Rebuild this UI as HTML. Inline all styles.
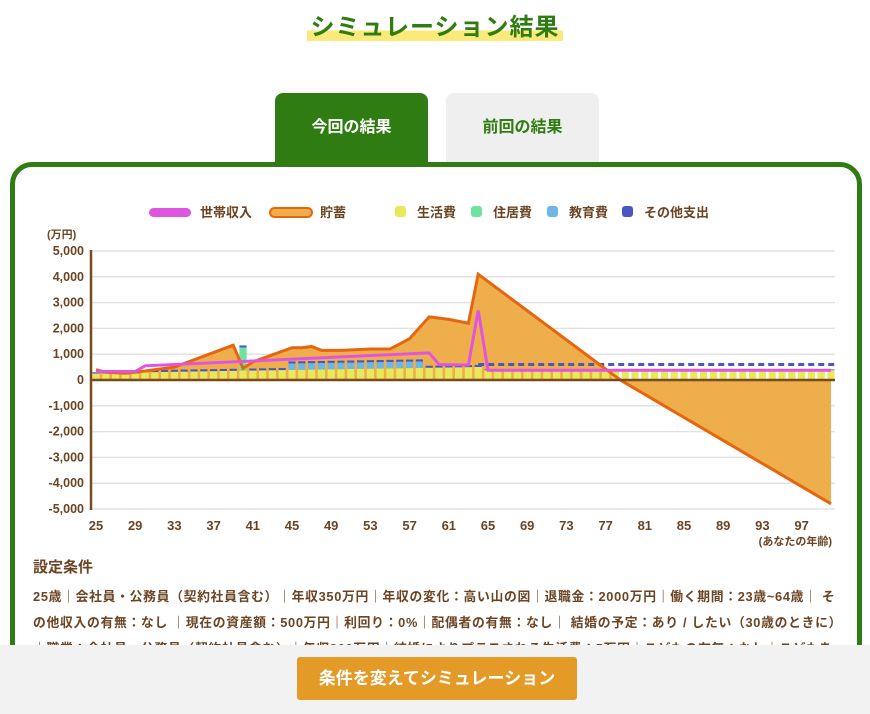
<!DOCTYPE html>
<html><head><meta charset="utf-8"><style>
html,body{margin:0;width:870px;height:714px;overflow:hidden}
body{background:#fff;font-family:"Liberation Sans","Noto Sans CJK JP",sans-serif;position:relative}
.t{position:absolute;top:7px;left:0;width:870px;text-align:center;font-size:24px;font-weight:bold;color:#2f7d12;letter-spacing:1px}
.t span{background:linear-gradient(transparent 62%,#fbe97a 62%);padding:0 3px}
.tab{position:absolute;top:93px;width:153px;height:72px;border-radius:8px 8px 0 0;text-align:center;line-height:70px;font-size:16px;font-weight:bold}
.box{position:absolute;left:10px;top:162px;width:842px;height:520px;border:5px solid #2f7d12;border-radius:22px}
.cond{position:absolute;left:33px;color:#6b4423;font-weight:bold}
.foot{position:absolute;left:0;top:645px;width:870px;height:69px;background:#f2f2f2}
.btn{position:absolute;left:297px;top:657px;width:280px;height:43px;background:#e49a26;border-radius:3px;color:#fff;font-weight:bold;font-size:17px;text-align:center;line-height:43px}
</style></head><body>
<div class="t"><span>シミュレーション結果</span></div>
<div class="tab" style="left:275px;background:#2f7d12;color:#fff">今回の結果</div>
<div class="tab" style="left:446px;background:#efefef;color:#2f7d12">前回の結果</div>
<div class="box"></div>
<svg id="c" width="870" height="714" style="position:absolute;left:0;top:0" font-family="Liberation Sans, Noto Sans CJK JP, sans-serif" font-weight="bold"></svg>
<div class="cond" style="top:556px;font-size:15px">設定条件</div>
<div class="cond" style="top:584px;font-size:12.8px;line-height:26px;width:810px;letter-spacing:0.7px">25歳｜会社員・公務員（契約社員含む）｜年収350万円｜年収の変化：高い山の図｜退職金：2000万円｜働く期間：23歳~64歳｜ その他収入の有無：なし ｜現在の資産額：500万円｜利回り：0%｜配偶者の有無：なし｜ 結婚の予定：あり / したい（30歳のときに）｜職業：会社員・公務員（契約社員含む）｜年収300万円｜結婚によりプラスされる生活費：5万円｜こどもの有無：なし｜こどもを持</div>
<div class="foot"></div>
<div class="btn">条件を変えてシミュレーション</div>
<script>
const s=document.getElementById('c');let h='';
const X=a=>96+(a-25)*9.8, Y=v=>380-v*0.0258;
h+='<text x="47" y="238" font-size="11" fill="#6b4423">(万円)</text>';
for(let v=-5000;v<=5000;v+=1000){const y=Y(v);
 if(v!==0)h+=`<line x1="91" x2="835" y1="${y}" y2="${y}" stroke="#e2e2e2" stroke-width="1.5"/>`;
 h+=`<text x="84" y="${y+4}" font-size="12.5" text-anchor="end" fill="#6b4423">${v.toLocaleString('en')}</text>`;}
for(let a=25;a<=97;a+=4)h+=`<text x="${X(a)}" y="530" font-size="13" text-anchor="middle" fill="#6b4423">${a}</text>`;
h+='<text x="832" y="545" font-size="11" text-anchor="end" fill="#6b4423">(あなたの年齢)</text>';
const sv=[[25,400],[26,300],[28,260],[30,350],[33,500],[39,1350],[40,450],[41,700],[45,1250],[46,1250],[47,1300],[48,1150],[50,1150],[53,1200],[55,1200],[57,1600],[59,2450],[61,2350],[63,2200],[64,4100],[78.5,0],[100,-4800]];
let p=sv.map(q=>X(q[0])+','+Y(q[1])).join(' ');
h+=`<polygon points="${X(25)},${Y(0)} ${p} ${X(100)},${Y(0)}" fill="#eeae4b"/>`;
for(let a=25;a<=100;a++){const x=X(a)-3.6;let life=a<30?250:a<65?300+(a-30)*6:380;let other=a<65?(a<30?50:80):30;let edu=(a>=45&&a<=58)?250:0;
 let y=Y(0);const rect=(v,c)=>{const hh=v*0.0258;y-=hh;h+=`<rect x="${x}" y="${y}" width="7.2" height="${hh}" fill="${c}"/>`;};
 rect(life,'#e8e85a');rect(edu,'#6cb7e6');if(a===40)rect(900,'#6de3a0');rect(other,'#4a56c2');}
h+=`<line x1="${X(64)}" x2="835" y1="${Y(600)}" y2="${Y(600)}" stroke="#4a56c2" stroke-width="3" stroke-dasharray="6 4"/>`;
h+=`<polyline points="${p}" fill="none" stroke="#e8650f" stroke-width="3"/>`;
h+=`<line x1="91" x2="835" y1="380" y2="380" stroke="#7a4a1c" stroke-width="2.5"/>`;
h+=`<line x1="91" x2="91" y1="250" y2="510" stroke="#7a4a1c" stroke-width="2.5"/>`;
const inc=[[25,330],[29,330],[30,550],[59,1050],[60,600],[63,580],[64,2700],[65,380],[100,380]];
h+=`<polyline points="${inc.map(q=>X(q[0])+','+Y(q[1])).join(' ')}" fill="none" stroke="#e055e0" stroke-width="3"/>`;
h+='<rect x="149" y="208" width="42" height="9" rx="4.5" fill="#e055e0"/><text x="200" y="217" font-size="13" fill="#6b4423">世帯収入</text>';
h+='<rect x="270" y="208" width="42" height="9" rx="4.5" fill="#eeae4b" stroke="#e8650f" stroke-width="2"/><text x="320" y="217" font-size="13" fill="#6b4423">貯蓄</text>';
[['#e8e85a',395,'生活費'],['#6de3a0',471,'住居費'],['#6cb7e6',547,'教育費'],['#4a56c2',622,'その他支出']].forEach(l=>{h+=`<rect x="${l[1]}" y="206" width="11" height="11" rx="3" fill="${l[0]}"/><text x="${l[1]+22}" y="217" font-size="13" fill="#6b4423">${l[2]}</text>`;});
s.innerHTML=h;
</script>
</body></html>
